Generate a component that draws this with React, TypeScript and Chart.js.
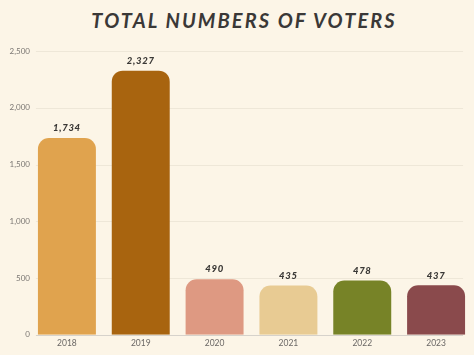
import React, { useEffect, useRef } from "react";
import { Chart, registerables } from "chart.js";

Chart.register(...registerables);

const years = ["2018", "2019", "2020", "2021", "2022", "2023"];
const voters = [1734, 2327, 490, 435, 478, 437];
const barColors = ["#E0A34E", "#A8640F", "#DE9982", "#E8CB93", "#778327", "#8A4A4C"];
const yTicks = [0, 500, 1000, 1500, 2000, 2500];
const titleText = "TOTAL NUMBERS OF VOTERS";

const gridPlugin = {
  id: "customGrid",
  beforeDatasetsDraw(chart: any) {
    const { ctx } = chart;
    const meta = chart.getDatasetMeta(0);
    const first: any = meta.data[0];
    const last: any = meta.data[meta.data.length - 1];
    const x0 = first.x - first.width / 2 - 2;
    const x1 = last.x + last.width / 2 - 2;
    const y = chart.scales.y;
    ctx.save();
    yTicks.forEach((v) => {
      const py = Math.round(y.getPixelForValue(v)) + 0.5;
      ctx.strokeStyle = v === 0 ? "#D6D2CB" : "#EEE7D8";
      ctx.lineWidth = 1;
      ctx.beginPath();
      ctx.moveTo(x0, py);
      ctx.lineTo(x1, py);
      ctx.stroke();
    });
    ctx.restore();
  },
};

const labelPlugin = {
  id: "valueLabels",
  afterDatasetsDraw(chart: any) {
    const { ctx } = chart;
    const meta = chart.getDatasetMeta(0);
    ctx.save();
    ctx.font = "italic 900 9.5px Lato";
    (ctx as any).letterSpacing = "0.7px";
    ctx.fillStyle = "#3A3836";
    ctx.textAlign = "center";
    ctx.textBaseline = "bottom";
    meta.data.forEach((bar: any, i: number) => {
      ctx.fillText(voters[i].toLocaleString("en-US"), bar.x, bar.y - 5);
    });
    ctx.restore();
  },
};

export default function App() {
  const ref = useRef<HTMLCanvasElement | null>(null);
  useEffect(() => {
    document.body.style.margin = "0";
    const chart = new Chart(ref.current as HTMLCanvasElement, {
      type: "bar",
      data: {
        labels: years,
        datasets: [
          {
            data: voters,
            backgroundColor: barColors,
            borderRadius: 11,
            borderSkipped: "bottom",
            barPercentage: 0.785,
            categoryPercentage: 1,
          },
        ],
      },
      options: {
        animation: false,
        responsive: true,
        maintainAspectRatio: false,
        layout: { padding: { top: 51, right: 1, bottom: 4, left: 0 } },
        plugins: {
          legend: { display: false },
          title: { display: false },
          tooltip: { enabled: false },
        },
        scales: {
          x: {
            grid: { display: false, drawTicks: false },
            border: { display: false },
            ticks: { color: "#6B6866", font: { family: "Lato", size: 8.5 }, padding: 3 },
          },
          y: {
            min: 0,
            max: 2500,
            afterFit: (s: any) => {
              s.width = 30;
            },
            afterBuildTicks: (s: any) => {
              s.ticks = yTicks.map((v) => ({ value: v }));
            },
            grid: { display: false, drawTicks: false },
            border: { display: false },
            ticks: {
              color: "#7A7672",
              font: { family: "Lato", size: 8 },
              padding: 0,
              callback: (v: any) => Number(v).toLocaleString("en-US"),
            },
          },
        },
      },
      plugins: [gridPlugin, labelPlugin],
    });
    return () => chart.destroy();
  }, []);

  return (
    <div
      style={{
        position: "fixed",
        left: 0,
        top: 0,
        width: 474,
        height: 355,
        background: "#FCF5E7",
      }}
    >
      <div
        style={{
          position: "absolute",
          left: 0,
          right: 0,
          top: 5,
          textAlign: "center",
          fontFamily: "Lato",
          fontStyle: "italic",
          fontWeight: 700,
          fontSize: 20,
          letterSpacing: "2.1px",
          color: "#3A3837",
          lineHeight: "30px",
          paddingLeft: 14,
        }}
      >
        {titleText}
      </div>
      <canvas ref={ref} style={{ position: "absolute", left: 0, top: 0 }} />
    </div>
  );
}
